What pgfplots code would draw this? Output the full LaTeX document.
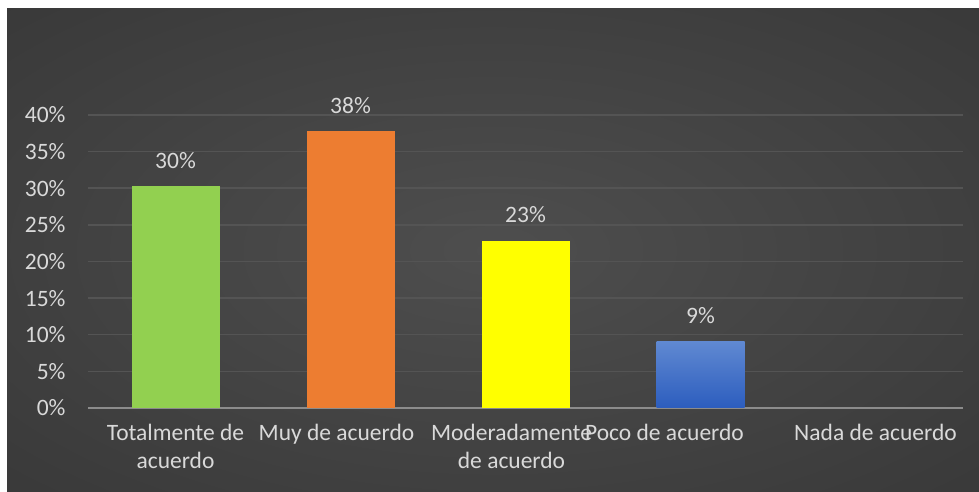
\documentclass[border=0pt]{standalone}
\usepackage{pgfplots}
\pgfplotsset{compat=1.18}
\usepackage{fontspec}
\setmainfont{Carlito}
\definecolor{bgin}{HTML}{4E4E4E}
\definecolor{bgout}{HTML}{242424}
\definecolor{textc}{HTML}{D9D9D9}
\definecolor{gridc}{HTML}{545454}
\definecolor{axisc}{HTML}{8C8C8C}
\definecolor{cgreen}{HTML}{92D050}
\definecolor{corange}{HTML}{ED7D31}
\definecolor{cyellow}{HTML}{FFFF00}
\definecolor{bluetop}{HTML}{6089D2}
\definecolor{bluebot}{HTML}{2C5DBE}
\pgfdeclareradialshading{bgshade}{\pgfpoint{0bp}{0bp}}{color(0bp)=(bgin); color(72bp)=(bgout)}
\newcommand{\pad}[1]{\rule{#1}{0pt}}
\begin{document}
\begin{tikzpicture}[x=1pt,y=1pt]
\fill[white] (0,0) rectangle (979,492);
\shade[shading=bgshade] (7,0) rectangle (979,483);
\begin{axis}[
  at={(88pt,84pt)}, anchor=south west,
  scale only axis, width=875pt, height=293pt,
  xmin=-0.5, xmax=4.5, ymin=0, ymax=40,
  axis x line*=bottom, axis y line*=left,
  x axis line style={color=axisc, line width=2pt, -},
  y axis line style={draw=none},
  major tick length=0pt,
  ytick={0,5,10,15,20,25,30,35,40},
  yticklabels={0\%,5\%,10\%,15\%,20\%,25\%,30\%,35\%,40\%},
  xtick={0,1,2,3,4},
  xticklabels={Totalmente de\\acuerdo, Muy de acuerdo\pad{28pt}, Moderadamente\pad{28pt}\\de acuerdo\pad{28pt}, Poco de acuerdo\pad{72pt}, Nada de acuerdo},
  ymajorgrids, grid style={color=gridc, line width=1.5pt},
  tick label style={color=textc, font=\fontsize{23.5}{28}\selectfont},
  xticklabel style={align=center, yshift=-13pt},
  yticklabel style={xshift=-19pt},
  ybar, bar width=88pt, bar shift=0pt,
  point meta=explicit symbolic,
  nodes near coords,
  nodes near coords style={color=textc, font=\fontsize{23.5}{28}\selectfont, anchor=base, yshift=18pt},
]
\addplot[draw=none, fill=cgreen] coordinates {(0,30.3) [30\%]};
\addplot[draw=none, fill=corange] coordinates {(1,37.8) [38\%]};
\addplot[draw=none, fill=cyellow] coordinates {(2,22.8) [23\%]};
\addplot[draw=none, top color=bluetop, bottom color=bluebot] coordinates {(3,9.1) [9\%]};
\addplot[draw=none, fill=none] coordinates {(4,0) []};
\end{axis}
\end{tikzpicture}
\end{document}
